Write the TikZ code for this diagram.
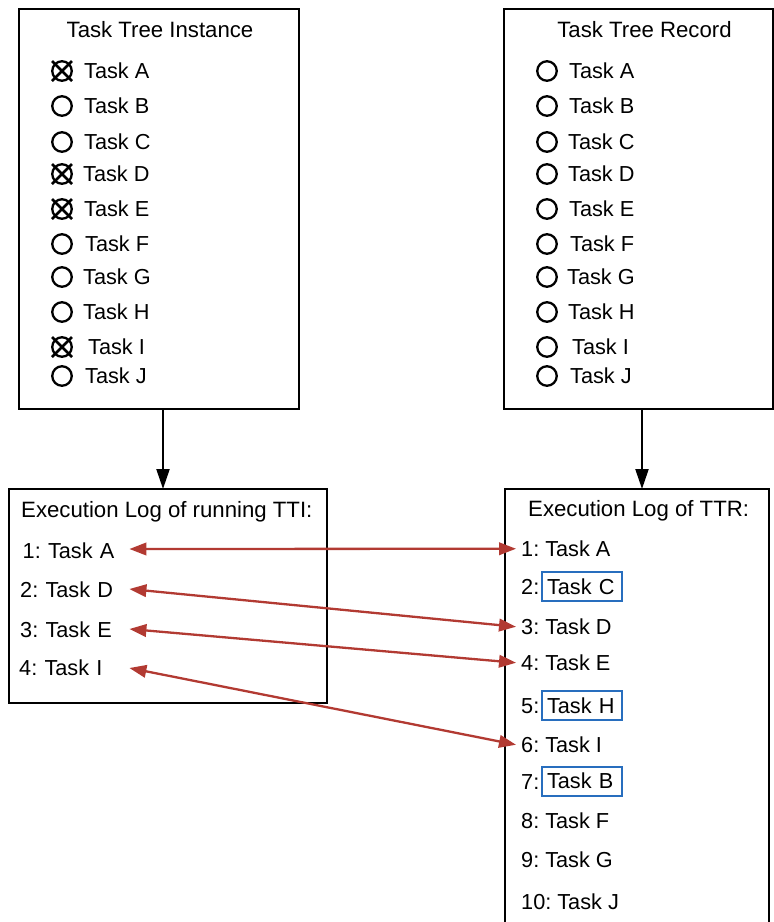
\documentclass[tikz,border=0pt]{standalone}
\usepackage{fontspec}
\setmainfont{Liberation Sans}
\usetikzlibrary{arrows.meta}
\definecolor{arrowred}{RGB}{178,58,50}
\definecolor{boxblue}{RGB}{40,110,190}
\frenchspacing
\begin{document}
\begin{tikzpicture}[x=1pt,y=-1pt,
  frame/.style={draw=black, line width=2.6pt, inner sep=0pt, outer sep=0pt, anchor=north west},
  title/.style={font=\fontsize{22.2}{26}\selectfont, inner sep=0pt},
  item/.style={font=\fontsize{21.7}{25}\selectfont, inner sep=0pt, anchor=base west},
  ritem/.style={font=\fontsize{21.7}{25}\selectfont, inner ysep=0pt, inner xsep=5pt, anchor=base west},
  opencirc/.style={circle, draw=black, line width=2.3pt, minimum size=19.5pt, inner sep=0pt},
  crossline/.style={draw=black, line width=2.5pt},
  bluebox/.style={draw=boxblue, line width=2pt, font=\fontsize{21.7}{25}\selectfont, minimum height=29pt, inner xsep=5pt, inner ysep=0pt, text width=70pt, align=left, anchor=west},
  downarrow/.style={draw=black, line width=2.2pt, -{Triangle[length=20pt,width=13pt]}},
  matcharrow/.style={draw=arrowred, line width=2.3pt, {Triangle[length=17pt,width=12.5pt]}-{Triangle[length=17pt,width=12.5pt]}}
]
\clip (0,0) rectangle (774,922);

% ---- Task Tree Instance ----
\node[frame, minimum width=280pt, minimum height=400pt] (tti) at (19,9) {};
\node[title, anchor=base] (ttititle) at (160,37.3) {Task Tree Instance};
\foreach \l/\y/\tx/\chk in {A/71/84/1, B/106/84/0, C/142/84/0, D/174/83/1, E/209/84/1, F/244/85/0, G/277/83/0, H/312/83/0, I/347/88/1, J/376/85/0}{
  \node[opencirc] (ci\l) at (62,\y) {};
  \node[item] (ti\l) at (\tx,\y+7.7) {Task \l};
  \ifnum\chk=1
    \draw[crossline] ([shift={(-10pt,10pt)}]ci\l.center) -- ([shift={(10pt,-10pt)}]ci\l.center);
    \draw[crossline] ([shift={(-10pt,-10pt)}]ci\l.center) -- ([shift={(10pt,10pt)}]ci\l.center);
  \fi
}

% ---- Task Tree Record ----
\node[frame, minimum width=269pt, minimum height=400pt] (ttr) at (504,9) {};
\node[title, anchor=base] (ttrtitle) at (644.5,37.3) {Task Tree Record};
\foreach \l/\y/\tx in {A/71/569, B/106/569, C/142/568, D/174/568, E/209/569, F/244/570, G/277/567, H/312/568, I/347/572, J/376/570}{
  \node[opencirc] (cr\l) at (547,\y) {};
  \node[item] (tr\l) at (\tx,\y+7.7) {Task \l};
}

% ---- Execution log of running TTI ----
\node[frame, minimum width=318pt, minimum height=214pt] (logl) at (9,489) {};
\node[title, anchor=base west] (logltitle) at (21,517.3) {Execution Log of running TTI:};
\node[item, text width=106.5pt] (l1) at (22.5,558) {1: Task A};
\node[item, text width=109pt] (l2) at (20,597) {2: Task D};
\node[item, text width=109pt] (l3) at (20,637) {3: Task E};
\node[item, text width=110pt] (l4) at (19,675) {4: Task I};

% ---- Execution log of TTR ----
\node[frame, minimum width=264pt, minimum height=460pt] (logr) at (505,489) {};
\node[title, anchor=base west] (logrtitle) at (528,516.7) {Execution Log of TTR:};
\node[ritem] (r1) at (516,556.5) {1: Task A};
\node[ritem] (r2) at (516,594.5) {2:};
\node[bluebox] (r2b) at (541,586.5) {Task C};
\node[ritem] (r3) at (516,634.5) {3: Task D};
\node[ritem] (r4) at (516,670.5) {4: Task E};
\node[ritem] (r5) at (516,713.5) {5:};
\node[bluebox] (r5b) at (541,705.5) {Task H};
\node[ritem] (r6) at (516,752.5) {6: Task I};
\node[ritem] (r7) at (516,789.5) {7:};
\node[bluebox] (r7b) at (541,781) {Task B};
\node[ritem] (r8) at (516,828.5) {8: Task F};
\node[ritem] (r9) at (516,867.5) {9: Task G};
\node[ritem] (r10) at (516,909.5) {10: Task J};

% ---- connectors ----
\draw[downarrow] ([xshift=4pt]tti.south) -- ([xshift=4pt]tti.south |- logl.north);
\draw[downarrow] ([xshift=3.5pt]ttr.south) -- ([xshift=3.5pt]ttr.south |- logr.north);

\draw[matcharrow] ([yshift=9pt]l1.base east) -- (r1.west);
\draw[matcharrow] ([yshift=8pt]l2.base east) -- (r3.west);
\draw[matcharrow] ([yshift=8pt]l3.base east) -- (r4.west);
\draw[matcharrow] ([yshift=7pt]l4.base east) -- (r6.west);
\end{tikzpicture}
\end{document}
